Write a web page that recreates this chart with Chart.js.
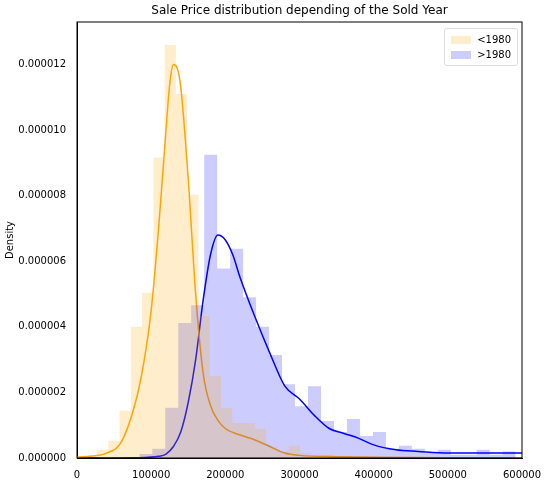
<!DOCTYPE html>
<html><head><meta charset="utf-8">
<script src="https://cdn.jsdelivr.net/npm/chart.js@4"></script>
<style>body{margin:0;background:#fff;font-family:"DejaVu Sans",sans-serif}#w{position:relative;width:548px;height:482px}
#lg{position:absolute;right:30px;top:28px;border:1px solid #ddd;border-radius:3px;background:rgba(255,255,255,.8);font-size:10px;padding:3px 6px;line-height:15px}
#lg span{display:inline-block;width:20px;height:8px;margin-right:6px;vertical-align:-1px}</style></head>
<body><div id="w"><canvas id="c" width="548" height="482"></canvas>
<div id="lg"><div><span style="background:rgba(255,165,0,0.2)"></span>&lt;1980</div><div><span style="background:rgba(0,0,255,0.2)"></span>&gt;1980</div></div></div>
<script>
const titleText='Sale Price distribution depending of the Sold Year';
const oldEdges=[27000,42200,57400,72600,87800,103000,118200,133400,148600,163800,179000,194200,209400,224600,239800,255000,270200,285400,300600,315800,331000,346200,361400,376600,391800,407000,422200];
const oldHeights=[0.26,0.53,1.44,4.0,5.04,9.17,12.6,11.1,8.04,4.33,2.5,1.53,1.07,1.07,0.89,0.34,0.2,0.37,0.15,0.1,0.1,0.05,0.05,0.05,0.05,0.03];
const newEdges=[84000,101500,119000,136500,154000,171500,189000,206500,224000,241500,259000,276500,294000,311500,329000,346500,364000,381500,399000,416500,434000,451500,469000,486500,504000,521500,539000,556500,574000,591500,609000];
const newHeights=[0.12,0.28,1.53,4.12,4.66,9.25,5.78,6.38,4.9,4.0,3.14,2.25,1.58,2.19,1.13,0.79,1.19,0.67,0.79,0.28,0.37,0.28,0.15,0.25,0.1,0.1,0.25,0.1,0.2];
const oldKdeX=[0,20000,40000,60000,80000,90000,100000,110000,120000,125000,130000,135000,140000,150000,160000,170000,180000,190000,200000,220000,240000,260000,280000,300000,350000,400000,500000,600000];
const oldKdeY=[0.03,0.06,0.15,0.5,1.8,2.9,4.5,7.0,10.0,11.4,12.0,11.9,11.3,8.5,5.0,2.6,1.6,1.15,0.9,0.7,0.55,0.35,0.15,0.08,0.04,0.02,0.01,0.01];
const newKdeX=[0,80000,110000,120000,130000,140000,150000,160000,170000,180000,190000,200000,210000,220000,240000,260000,280000,300000,320000,340000,360000,380000,400000,430000,460000,500000,550000,600000];
const newKdeY=[0,0.01,0.05,0.12,0.35,0.8,1.7,3.0,4.8,6.2,6.8,6.65,6.2,5.5,4.3,3.2,2.2,1.8,1.3,0.9,0.75,0.6,0.4,0.25,0.2,0.15,0.15,0.15];
const yTicks=[0,0.000002,0.000004,0.000006,0.000008,0.00001,0.000012];
function hist(edges,h){const p=[{x:edges[0],y:0}];h.forEach((v,i)=>{p.push({x:edges[i],y:v*1e-6});p.push({x:edges[i+1],y:v*1e-6});});p.push({x:edges[h.length],y:0});return p;}
function kde(xs,ys){return xs.map((x,i)=>({x,y:ys[i]*1e-6}));}
new Chart(document.getElementById('c'),{type:'line',data:{datasets:[
{data:hist(oldEdges,oldHeights),fill:'origin',backgroundColor:'rgba(255,165,0,0.2)',borderWidth:0,pointRadius:0,tension:0},
{data:hist(newEdges,newHeights),fill:'origin',backgroundColor:'rgba(0,0,255,0.2)',borderWidth:0,pointRadius:0,tension:0},
{data:kde(oldKdeX,oldKdeY),borderColor:'orange',borderWidth:1.5,pointRadius:0,cubicInterpolationMode:'monotone',fill:false},
{data:kde(newKdeX,newKdeY),borderColor:'blue',borderWidth:1.5,pointRadius:0,cubicInterpolationMode:'monotone',fill:false}]},
options:{responsive:false,animation:false,clip:true,layout:{padding:{right:26,top:22,bottom:0}},
plugins:{legend:{display:false},tooltip:{enabled:false},title:{display:false}},
scales:{x:{type:'linear',min:0,max:600000,grid:{display:false},border:{color:'#000'},ticks:{stepSize:100000,color:'#000',font:{size:10,family:'DejaVu Sans'},maxRotation:0,callback:v=>String(v)},afterFit(s){s.height=24;}},
y:{min:0,max:0.0000133,grid:{display:false},border:{color:'#000'},afterBuildTicks(s){s.ticks=yTicks.map(v=>({value:v}));},ticks:{color:'#000',font:{size:10,family:'DejaVu Sans'},callback:v=>v.toFixed(6)},title:{display:true,text:'Density',color:'#000',font:{size:10,family:'DejaVu Sans'}},afterFit(s){s.width=77;}}}},
plugins:[{id:'box',afterDraw(c){const a=c.chartArea,x=c.ctx;x.save();x.strokeStyle='#000';x.lineWidth=1;x.strokeRect(a.left,a.top,a.right-a.left,a.bottom-a.top);
x.fillStyle='#000';x.font='12px "DejaVu Sans"';x.textAlign='center';x.textBaseline='bottom';x.fillText(titleText,(a.left+a.right)/2,a.top-5);x.restore();}}]});
</script></body></html>
